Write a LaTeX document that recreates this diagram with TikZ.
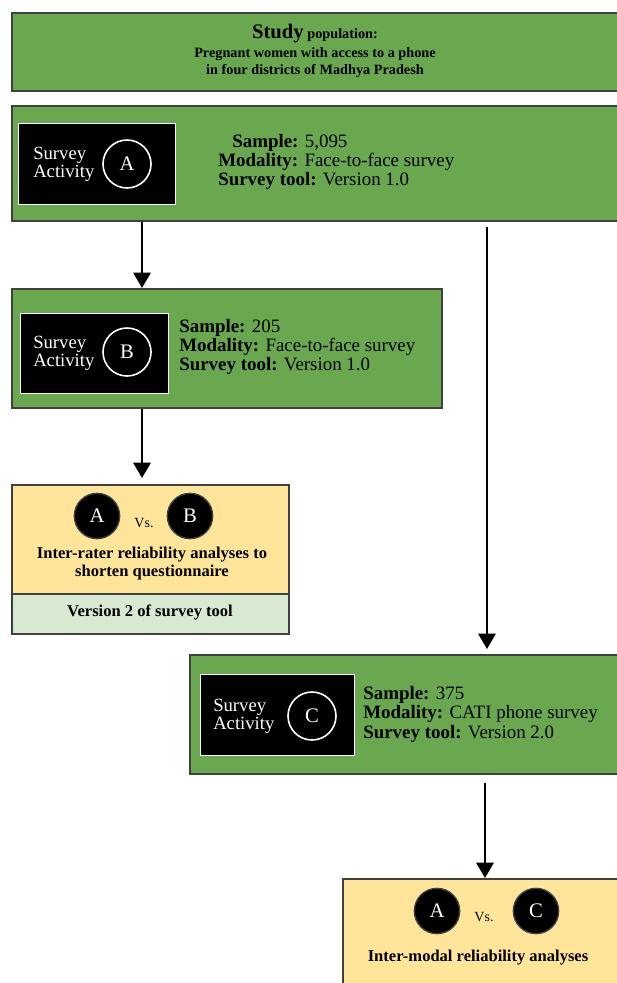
\documentclass[tikz,border=0pt]{standalone}
\usepackage{fontspec}
\setmainfont{Liberation Serif}
\usetikzlibrary{arrows.meta,positioning}
\definecolor{boxgreen}{RGB}{106,168,79}
\definecolor{boxyellow}{RGB}{255,229,153}
\definecolor{palegreen}{RGB}{217,234,211}
\definecolor{edgegray}{RGB}{64,64,64}

\tikzset{
  panel/.style={draw=edgegray,line width=1.5pt,anchor=north west,inner sep=0pt},
  activity/.style={draw=white,line width=1pt,fill=black,anchor=north west,inner sep=0pt},
  ringlabel/.style={circle,draw=white,line width=1.2pt,minimum size=36pt,inner sep=0pt,text=white,font=\fontsize{15.5}{15.5}\selectfont},
  dotlabel/.style={circle,fill=black,draw=edgegray,line width=1pt,minimum size=34pt,inner sep=0pt,text=white,font=\fontsize{15.5}{15.5}\selectfont},
  acttext/.style={anchor=west,align=left,text=white,inner sep=0pt,font=\fontsize{14}{13.5}\selectfont},
  infotext/.style={anchor=west,align=left,inner sep=0pt,font=\fontsize{14.2}{14.6}\selectfont},
  arr/.style={-{Triangle[width=13pt,length=11.5pt]},line width=1.5pt}
}

\begin{document}
\begin{tikzpicture}[x=0.75pt,y=0.75pt,yscale=-1,xscale=1]
\useasboundingbox (0,0) rectangle (617,983);
\clip (0,0) rectangle (617,983);

%Shape: Study population
\node (popbox) at (11,12) [panel,fill=boxgreen,minimum width=465pt,minimum height=58.5pt] {};
% Text Node
\node (poptext) at (315,51) [align=center,font=\bfseries\fontsize{10.7}{12.75}\selectfont] {{\fontsize{15.5}{15.5}\selectfont Study} population:\\[1pt]Pregnant women with access to a phone\\in four districts of Madhya Pradesh};

%Shape: Survey activity A
\node (boxA) at (11,105) [panel,fill=boxgreen,minimum width=465pt,minimum height=86.25pt] {};
\node (actA) at (18,123) [activity,minimum width=117.75pt,minimum height=60.75pt] {};
\node (actAtext) at (33,164) [acttext] {Survey\\Activity};
\node (ringA) at (127,164) [ringlabel] {A};
% Text Node
\node (infoA) at (218,162) [infotext] {\hspace*{10.5pt}\textbf{Sample:} 5,095\\\textbf{Modality:} Face-to-face survey\\\textbf{Survey tool:} Version 1.0};

%Shape: Survey activity B
\node (boxB) at (11,288) [panel,fill=boxgreen,minimum width=322.5pt,minimum height=89.25pt] {};
\node (actB) at (20,313) [activity,minimum width=111pt,minimum height=60pt] {};
\node (actBtext) at (33,353) [acttext] {Survey\\Activity};
\node (ringB) at (127,352) [ringlabel] {B};
% Text Node
\node (infoB) at (179,347) [infotext] {\textbf{Sample:} 205\\\textbf{Modality:} Face-to-face survey\\\textbf{Survey tool:} Version 1.0};

%Shape: Inter-rater comparison
\node (compAB) at (11,484) [panel,fill=boxyellow,minimum width=207.75pt,minimum height=81.75pt] {};
\node (verbox) at (11,593) [panel,fill=palegreen,minimum width=207.75pt,minimum height=30pt] {};
\node (dotA1) at (97,516) [dotlabel] {A};
\node (vsAB) at (144,523) [font=\fontsize{10.5}{10.5}\selectfont] {Vs.};
\node (dotB) at (190,516) [dotlabel] {B};
% Text Node
\node (raterText) at (152,564) [align=center,font=\bfseries\fontsize{12.4}{13.5}\selectfont] {Inter-rater reliability analyses to\\shorten questionnaire};
\node (verText) at (150,612) [font=\bfseries\fontsize{12.4}{12.4}\selectfont] {Version 2 of survey tool};

%Shape: Survey activity C
\node (boxC) at (189,654) [panel,fill=boxgreen,minimum width=330pt,minimum height=89.25pt] {};
\node (actC) at (200,674) [activity,minimum width=115.5pt,minimum height=60.75pt] {};
\node (actCtext) at (213,716) [acttext] {Survey\\Activity};
\node (ringC) at (312,716) [ringlabel] {C};
% Text Node
\node (infoC) at (363,714) [infotext] {\textbf{Sample:} 375\\\textbf{Modality:} CATI phone survey\\\textbf{Survey tool:} Version 2.0};

%Shape: Inter-modal comparison
\node (compAC) at (342,878) [panel,fill=boxyellow,minimum width=225pt,minimum height=100pt] {};
\node (dotA2) at (437,911) [dotlabel] {A};
\node (vsAC) at (484,917) [font=\fontsize{10.5}{10.5}\selectfont] {Vs.};
\node (dotC) at (536,911) [dotlabel] {C};
% Text Node
\node (modalText) at (478,958) [font=\bfseries\fontsize{12.4}{12.4}\selectfont] {Inter-modal reliability analyses};

%Straight Lines
\draw[arr] (boxA.south -| 142,0) -- (boxB.north -| 142,0);
\draw[arr,shorten >=4.5pt] (boxB.south -| 142,0) -- (compAB.north -| 142,0);
\draw[arr,shorten <=3.75pt,shorten >=3.75pt] (boxA.south -| 487,0) -- (boxC.north -| 487,0);
\draw[arr,shorten <=6pt] (boxC.south -| 485,0) -- (compAC.north -| 485,0);

\end{tikzpicture}
\end{document}
